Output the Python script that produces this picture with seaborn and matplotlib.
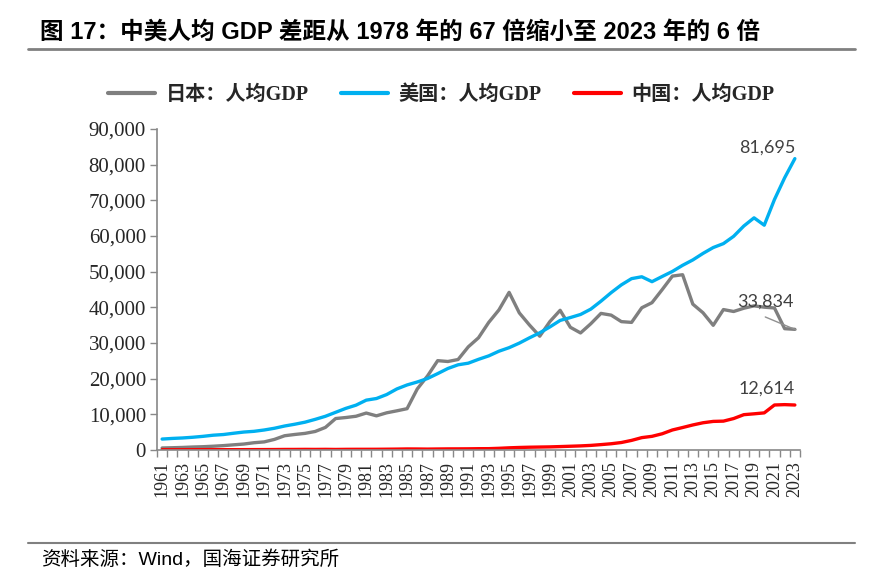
import numpy as np
import pandas as pd
import matplotlib
matplotlib.use('Agg')
import matplotlib.pyplot as plt
import seaborn as sns

# Data (USD, per capita GDP)
years = list(range(1961, 2024))
japan = [564, 633, 718, 836, 919, 1058, 1228, 1450, 1669, 2037,
         2272, 2967, 3997, 4354, 4659, 5197, 6335, 8821, 9105, 9463,
         10361, 9578, 10425, 10984, 11585, 17112, 20745, 25052, 24813, 25371,
         28925, 31465, 35766, 39269, 44198, 38437, 35022, 31903, 36027, 39169,
         34406, 32821, 35387, 38299, 37813, 35991, 35779, 39877, 41309, 44968,
         48760, 49145, 40898, 38475, 34961, 39375, 38834, 39751, 40416, 40040,
         39827, 34017, 33834]
usa = [3066, 3243, 3374, 3573, 3828, 4146, 4336, 4696, 5032, 5234,
       5609, 6094, 6726, 7226, 7801, 8592, 9453, 10565, 11674, 12575,
       13976, 14434, 15544, 17121, 18237, 19071, 20039, 21418, 22857, 23889,
       24342, 25419, 26387, 27695, 28691, 29968, 31459, 32854, 34515, 36330,
       37134, 37998, 39490, 41725, 44123, 46302, 48050, 48570, 47195, 48651,
       50066, 51784, 53291, 55123, 56763, 57867, 59915, 62805, 65095, 63028,
       70220, 76330, 81695]
china = [76, 70, 74, 85, 98, 104, 97, 91, 100, 113,
         119, 132, 157, 160, 178, 165, 185, 156, 184, 195,
         197, 203, 225, 251, 294, 282, 252, 284, 311, 318,
         333, 366, 377, 473, 610, 709, 782, 829, 873, 959,
         1053, 1149, 1289, 1509, 1753, 2099, 2694, 3468, 3832, 4550,
         5614, 6301, 7020, 7636, 8016, 8094, 8817, 9905, 10144, 10409,
         12618, 12720, 12614]
series_names = ['日本：人均GDP', '美国：人均GDP', '中国：人均GDP']
colors = ['#7f7f7f', '#00b0f0', '#ff0000']

df = pd.DataFrame({'year': years * 3,
                   'value': japan + usa + china,
                   'series': [series_names[0]] * len(years) + [series_names[1]] * len(years)
                             + [series_names[2]] * len(years)})

sns.set_style('ticks')
plt.rcParams['font.family'] = ['Liberation Sans', 'Noto Sans CJK SC', 'DejaVu Sans']
serif_cjk = ['Liberation Serif', 'Noto Sans CJK SC']

fig = plt.figure(figsize=(8.7, 5.79), dpi=100)
ax = fig.add_axes([0.1805, 0.2228, 0.739, 0.5544])

sns.lineplot(data=df, x='year', y='value', hue='series', palette=dict(zip(series_names, colors)),
             linewidth=2.4, ax=ax, legend=False)

ax.set_xlim(1960.5, 2023.5)
ax.set_ylim(0, 90000)
ax.set_xlabel('')
ax.set_ylabel('')

# x axis: labels on odd years, tick marks between categories
ax.set_xticks(years[::2])
ax.set_xticklabels([str(y) for y in years[::2]], rotation=90, family='Liberation Serif', fontsize=13)
ax.set_xticks(np.arange(1960.5, 2024, 1.0), minor=True)
ax.tick_params(axis='x', which='major', length=0, pad=8)
ax.tick_params(axis='x', which='minor', length=5, color='#888888', width=1)

ax.set_yticks(np.arange(0, 90001, 10000))
ax.set_yticklabels([f'{v:,}' for v in range(0, 90001, 10000)], family='Liberation Serif', fontsize=15)
ax.tick_params(axis='y', length=5, color='#888888', width=1, pad=3)

for s in ['top', 'right']:
    ax.spines[s].set_visible(False)
for s in ['left', 'bottom']:
    ax.spines[s].set_color('#888888')
    ax.spines[s].set_linewidth(1.2)

# annotations
ax.text(2020.3, 84900, '81,695', ha='center', va='center', fontsize=13, color='#404040', family='Lato')
ax.text(2020.1, 41500, '33,834', ha='center', va='center', fontsize=13, color='#404040', family='Lato')
ax.text(2020.2, 17300, '12,614', ha='center', va='center', fontsize=13, color='#404040', family='Lato')
ax.plot([2020.1, 2023.1], [37300, 33700], color='#909090', linewidth=1)

# legend
handles = [plt.Line2D([], [], color=c, linewidth=3) for c in colors]
leg = fig.legend(handles, series_names, loc='center', bbox_to_anchor=(0.507, 0.836), ncol=3,
                 frameon=False, handlelength=2.35, columnspacing=1.6, handletextpad=0.5,
                 prop={'family': serif_cjk, 'size': 14.5, 'weight': 'bold'})

# title and source
fig.text(0.046, 0.945, '图 17：中美人均 GDP 差距从 1978 年的 67 倍缩小至 2023 年的 6 倍',
         fontsize=17, fontweight='bold', va='center', ha='left', color='black')
fig.add_artist(plt.Line2D([0.032, 0.983], [0.915, 0.915], color='#808080', linewidth=2))
fig.add_artist(plt.Line2D([0.032, 0.983], [0.062, 0.062], color='#808080', linewidth=1.5))
fig.text(0.047, 0.033, '资料来源：Wind，国海证券研究所', fontsize=14, va='center', ha='left', color='black')

plt.savefig('out.png', dpi=100)
